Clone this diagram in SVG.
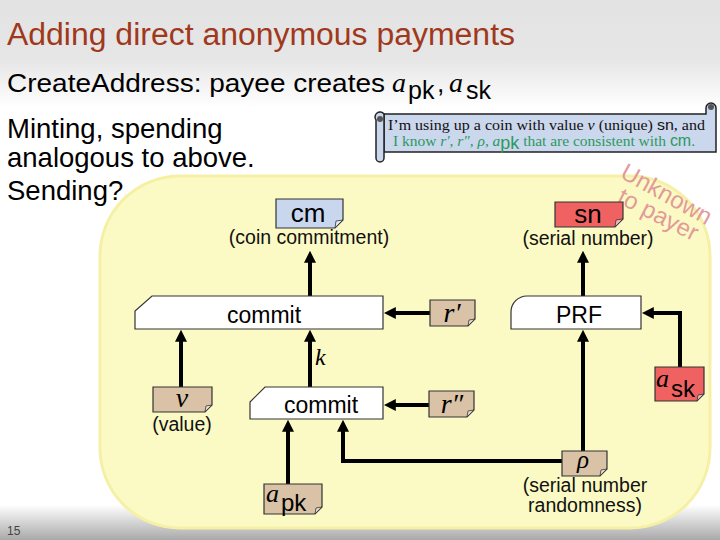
<svg xmlns="http://www.w3.org/2000/svg" width="720" height="540" viewBox="0 0 720 540">
<style>
.sans{font-family:"Liberation Sans",Arial,sans-serif}
.serif{font-family:"Liberation Serif","Times New Roman",serif}
.it{font-family:"Liberation Serif","Times New Roman",serif;font-style:italic}
.box{stroke:#333;stroke-width:1.2}
.tan{fill:#d9c2a5}
.red{fill:#f06262}
.blue{fill:#c9d7ee}
.fold{fill:#fff;fill-opacity:0.55;stroke:#333;stroke-width:0.8}
.func{fill:#fff;stroke:#333;stroke-width:1.2}
.conn{fill:none;stroke:#000;stroke-width:4;marker-end:url(#ah)}
.lbl{font-family:"Liberation Sans",Arial,sans-serif;font-size:19.5px;fill:#111;text-anchor:middle}
</style>
<defs>
<linearGradient id="bg" x1="0" y1="0" x2="0" y2="1">
<stop offset="0" stop-color="#e3e3e3"/>
<stop offset="0.11" stop-color="#e6e6e6"/>
<stop offset="0.2" stop-color="#ffffff"/>
<stop offset="0.935" stop-color="#ffffff"/>
<stop offset="1" stop-color="#a9a9a9"/>
</linearGradient>
<marker id="ah" viewBox="0 0 10 10" refX="4" refY="5" markerWidth="12" markerHeight="12" markerUnits="userSpaceOnUse" orient="auto">
<path d="M0,0 L10,5 L0,10 Z" fill="#000"/>
</marker>
</defs>
<rect x="0" y="0" width="720" height="540" fill="url(#bg)"/>
<text x="7" y="45" class="sans" font-size="31" fill="#a0381c" textLength="508" lengthAdjust="spacingAndGlyphs">Adding direct anonymous payments</text>
<text y="92" class="sans" font-size="26.5" fill="#000"><tspan x="7" textLength="378" lengthAdjust="spacingAndGlyphs">CreateAddress: payee creates</tspan><tspan x="392" class="it" font-size="28">a</tspan><tspan x="408" y="99" font-size="25">pk</tspan><tspan x="437" y="92">,</tspan><tspan x="449" class="it" font-size="28">a</tspan><tspan x="466" y="99" font-size="25">sk</tspan></text>
<g class="sans" font-size="27.5" fill="#000">
<text x="7" y="138">Minting, spending</text>
<text x="7" y="167">analogous to above.</text>
<text x="7" y="200">Sending?</text>
</g>
<rect x="100" y="176" width="610" height="352" rx="80" ry="80" fill="#fcfac4" stroke="#f6f0a6" stroke-width="3"/>
<g id="scroll">
<path d="M384,114 H706 V108 a5,5 0 0 1 10,0 V152 H384 Z" fill="#cbd7ec" stroke="#222" stroke-width="1.5"/>
<path d="M384,114 V158 a4,4 0 0 1 -8,0 V120 a4,4 0 0 1 8,-6 Z" fill="#cbd7ec" stroke="#222" stroke-width="1.5"/>
<circle cx="380" cy="119" r="3" fill="#555"/>
<circle cx="711" cy="107" r="3" fill="#555"/>
<text x="388" y="130" class="serif" font-size="15.5" fill="#111" textLength="317" lengthAdjust="spacingAndGlyphs">I’m using up a coin with value <tspan class="it">v</tspan> (unique) <tspan class="sans">sn</tspan>, and</text>
<text x="393" y="146" class="serif" font-size="15.5" fill="#2a9a5e" textLength="302" lengthAdjust="spacingAndGlyphs">I know <tspan class="it">r′, r″, ρ, a</tspan><tspan class="sans" font-size="18" dy="3">pk</tspan><tspan dy="-3"> that are consistent  with </tspan><tspan class="sans" font-size="16">cm</tspan>.</text>
</g>
<g id="unknown" class="sans" font-size="24" fill="#e29a9a">
<text transform="translate(619,177) rotate(29)">Unknown</text>
<text transform="translate(616,202) rotate(27)">to payer</text>
</g>
<g id="connectors">
<path class="conn" d="M310,297 V258"/>
<path class="conn" d="M583,296 V258"/>
<path class="conn" d="M430,313 H391"/>
<path class="conn" d="M181,387 V337"/>
<path class="conn" d="M310,387 V337"/>
<path class="conn" d="M429,405 H391"/>
<path class="conn" d="M680,367 V313 H649"/>
<path class="conn" d="M583,451 V337"/>
<path class="conn" d="M562,461 H343 V427"/>
<path class="conn" d="M288,484 V427"/>
</g>
<text x="315" y="365" class="it" font-size="24" fill="#000">k</text>
<g id="cm">
<path class="box blue" d="M276,199 H343 V220 L335,228 H276 Z"/>
<path class="fold" d="M343,220 L335,228 L336,221 Z"/>
<text x="308" y="222" class="sans" font-size="26" text-anchor="middle">cm</text>
<text x="309" y="244" class="lbl">(coin commitment)</text>
</g>
<g id="sn">
<path class="box red" d="M555,202 H623 V219 L615,227 H555 Z"/>
<path class="fold" d="M623,219 L615,227 L616,220 Z"/>
<text x="588" y="223" class="sans" font-size="26" text-anchor="middle">sn</text>
<text x="588" y="245" class="lbl">(serial number)</text>
</g>
<g id="commit1">
<path class="func" d="M152,296 H383 V329 H135 V311 Z"/>
<text x="264" y="323" class="sans" font-size="23" text-anchor="middle">commit</text>
</g>
<g id="prf">
<path class="func" d="M527,296 H641 V329 H511 V312 A16,16 0 0 1 527,296 Z"/>
<text x="579" y="323" class="sans" font-size="23" text-anchor="middle">PRF</text>
</g>
<g id="rp">
<path class="box tan" d="M430,300 H475 V319 L468,326 H430 Z"/>
<path class="fold" d="M475,319 L468,326 L469,320 Z"/>
<text x="452" y="322" class="it" font-size="28" text-anchor="middle">r′</text>
</g>
<g id="v">
<path class="box tan" d="M153,387 H212 V405 L205,412 H153 Z"/>
<path class="fold" d="M212,405 L205,412 L206,406 Z"/>
<text x="182" y="407" class="it" font-size="28" text-anchor="middle">v</text>
<text x="182" y="431" class="lbl">(value)</text>
</g>
<g id="commit2">
<path class="func" d="M265,387 H383 V419 H250 V402 Z"/>
<text x="321" y="413" class="sans" font-size="23" text-anchor="middle">commit</text>
</g>
<g id="rpp">
<path class="box tan" d="M429,391 H474 V410 L467,417 H429 Z"/>
<path class="fold" d="M474,410 L467,417 L468,411 Z"/>
<text x="452" y="413" class="it" font-size="28" text-anchor="middle">r″</text>
</g>
<g id="ask">
<path class="box red" d="M655,367 H704 V394 L697,401 H655 Z"/>
<path class="fold" d="M704,394 L697,401 L698,395 Z"/>
<text x="656" y="387" class="it" font-size="26">a</text>
<text x="671" y="397" class="sans" font-size="24">sk</text>
</g>
<g id="rho">
<path class="box tan" d="M562,451 H607 V469 L600,476 H562 Z"/>
<path class="fold" d="M607,469 L600,476 L601,470 Z"/>
<text x="583" y="468" class="it" font-size="25" text-anchor="middle">ρ</text>
<text x="585" y="492" class="lbl">(serial number</text>
<text x="585" y="512" class="lbl">randomness)</text>
</g>
<g id="apk">
<path class="box tan" d="M264,484 H322 V507 L315,514 H264 Z"/>
<path class="fold" d="M322,507 L315,514 L316,508 Z"/>
<text x="266" y="502" class="it" font-size="26">a</text>
<text x="281" y="511" class="sans" font-size="24">pk</text>
</g>
<text x="7" y="535" class="sans" font-size="12" fill="#444">15</text>
</svg>
